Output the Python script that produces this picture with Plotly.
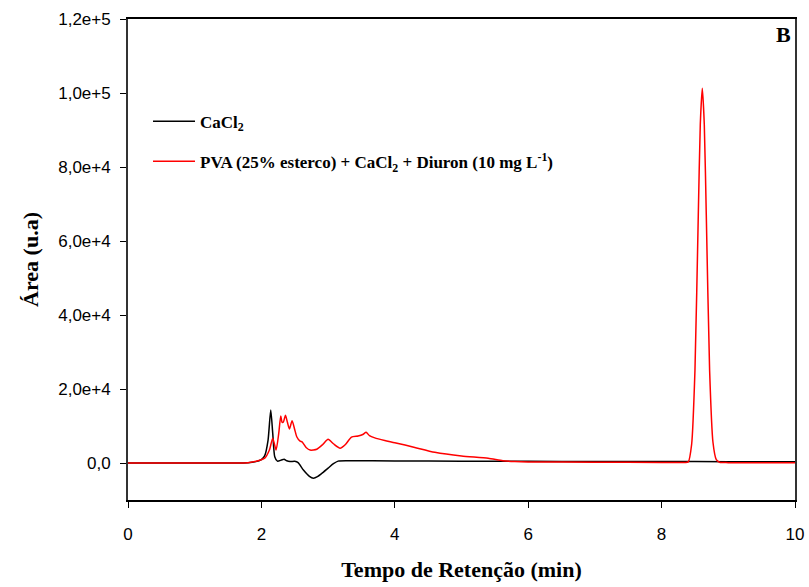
import plotly.graph_objects as go

# Retention time (min) and detector area for each chromatogram
cacl2_time = [0.0, 1.0, 1.6, 1.8, 1.9, 2.0, 2.05, 2.1, 2.14, 2.17, 2.2, 2.24, 2.3, 2.34,
              2.38, 2.43, 2.5, 2.55, 2.63, 2.72, 2.78, 2.84, 2.9, 3.0, 3.08, 3.15, 3.3,
              4.0, 5.0, 6.0, 7.0, 8.0, 9.0, 10.0]
cacl2_area = [0, 0, 0, 100, 300, 900, 2000, 6200, 14300, 8000, 1700, 500, 800, 1000,
              600, 400, 450, 100, -1900, -3600, -4100, -3700, -2900, -1400, -200, 500, 600,
              550, 500, 450, 400, 400, 350, 350]

pva_time = [0.0, 1.6, 1.8, 1.95, 2.05, 2.12, 2.17, 2.22, 2.26, 2.29, 2.31, 2.33, 2.36,
            2.39, 2.42, 2.46, 2.5, 2.53, 2.58, 2.61, 2.67, 2.73, 2.83, 2.92, 3.0, 3.08,
            3.18, 3.26, 3.35, 3.45, 3.52, 3.57, 3.62, 3.7, 3.85, 4.0, 4.3, 4.6, 5.0, 5.4,
            5.62, 5.8, 6.0, 7.0, 8.0, 8.35, 8.4, 8.45, 8.5, 8.55, 8.58, 8.61, 8.64, 8.67,
            8.72, 8.77, 8.82, 8.87, 9.0, 10.0]
pva_area = [0, 0, 100, 600, 1300, 3500, 6700, 3500, 8000, 12700, 11000, 11100, 12900,
            11000, 9200, 11400, 9000, 7100, 5900, 5700, 4200, 3500, 3700, 5000, 6400, 5200,
            4000, 5000, 7000, 7300, 7700, 8300, 7400, 6800, 6100, 5500, 4200, 2900, 1900, 1300,
            600, 400, 300, 200, 150, 150, 300, 5000, 25000, 67000, 91500, 101300, 91500, 67000,
            25000, 5600, 900, 200, 100, 50]

y_tickvals = [0, 20000, 40000, 60000, 80000, 100000, 120000]
y_ticktext = ["0,0", "2,0e+4", "4,0e+4", "6,0e+4", "8,0e+4", "1,0e+5", "1,2e+5"]
x_tickvals = [0, 2, 4, 6, 8, 10]

serif_bold = "Liberation Serif"
sans = "Liberation Sans"

fig = go.Figure()
fig.add_trace(go.Scatter(
    x=cacl2_time, y=cacl2_area, mode="lines", name="CaCl<sub>2</sub>",
    legendgroup="a",
    line=dict(color="black", width=1.5, shape="spline", smoothing=0.6),
))
fig.add_trace(go.Scatter(
    x=pva_time, y=pva_area, mode="lines",
    name="PVA (25% esterco) + CaCl<sub>2</sub> + Diuron (10 mg L<sup>-1</sup>)",
    legendgroup="b",
    line=dict(color="red", width=1.5, shape="spline", smoothing=0.6),
))

fig.update_layout(
    width=809, height=587,
    margin=dict(l=128, r=14, t=19, b=87),
    plot_bgcolor="white", paper_bgcolor="white",
    showlegend=True,
    legend=dict(
        x=0.03, y=0.745, xanchor="left", yanchor="middle",
        bgcolor="rgba(0,0,0,0)",
        font=dict(family=serif_bold, size=17, color="black", weight="bold"),
        itemwidth=42, tracegroupgap=15,
    ),
    annotations=[dict(
        text="<b>B</b>", x=0.997, y=0.997, xref="paper", yref="paper",
        xanchor="right", yanchor="top", showarrow=False,
        font=dict(family=serif_bold, size=22, color="black"),
    )],
)

fig.update_xaxes(
    range=[0, 10], tickvals=x_tickvals, ticks="outside", ticklen=6, tickwidth=1.2,
    tickcolor="black", showline=True, linecolor="black", linewidth=1.5, mirror=True,
    showgrid=False, zeroline=False, ticklabelstandoff=12, automargin=False,
    tickfont=dict(family=sans, size=17, color="black"),
    title=dict(text="<b>Tempo de Retenção (min)</b>", standoff=18,
               font=dict(family=serif_bold, size=22, color="black")),
)
fig.update_yaxes(
    range=[-10000, 120000], tickvals=y_tickvals, ticktext=y_ticktext, ticks="outside",
    ticklen=6, tickwidth=1.2, tickcolor="black", showline=True, linecolor="#333333",
    linewidth=1.8, mirror=True, showgrid=False, zeroline=False, ticklabelstandoff=6,
    automargin=False,
    tickfont=dict(family=sans, size=17, color="black"),
    title=dict(text="<b>Área (u.a)</b>", standoff=14,
               font=dict(family=serif_bold, size=22, color="black")),
)

fig.write_html("out.html")
